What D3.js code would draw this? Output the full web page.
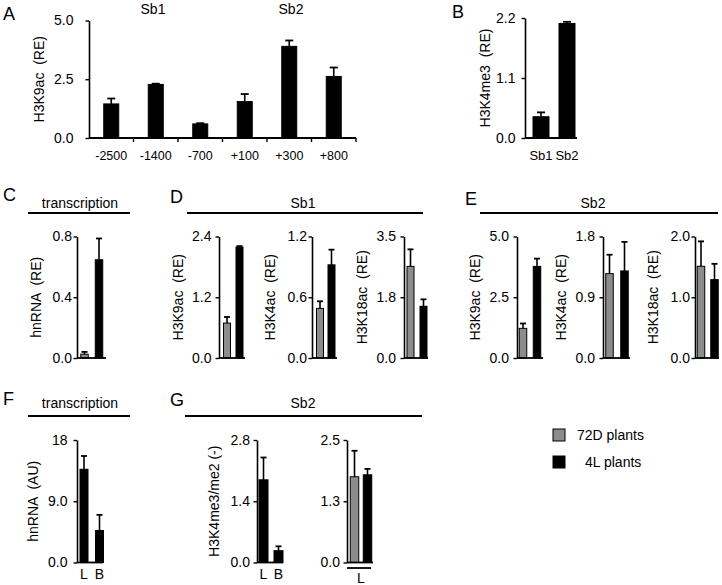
<!DOCTYPE html>
<html><head><meta charset="utf-8">
<script src="https://cdn.jsdelivr.net/npm/d3@7"></script>
<style>body{margin:0;background:#fff}svg{display:block}text{font-family:"Liberation Sans",Arial,sans-serif}</style>
</head><body>
<script>
// ---------- DATA ----------
const seriesNames = ["72D plants", "4L plants"];
// A
const aCategories = ["-2500", "-1400", "-700", "+100", "+300", "+800"];
const aValues = [1.45, 2.28, 0.60, 1.55, 3.90, 2.62];
const aErrors = [0.23, 0.03, 0.03, 0.32, 0.25, 0.38];
const aTicks = [0, 2.5, 5.0];
const aTickLabels = ["0.0", "2.5", "5.0"];
// B
const bCategories = ["Sb1", "Sb2"];
const bValues = [0.39, 2.10];
const bErrors = [0.08, 0.03];
const bTicks = [0, 1.1, 2.2];
const bTickLabels = ["0.0", "1.1", "2.2"];
// C  (72D, 4L)
const cValues = [0.025, 0.647];
const cErrors = [0.015, 0.14];
const cTicks = [0, 0.4, 0.8];
const cTickLabels = ["0.0", "0.4", "0.8"];
// D  Sb1
const d1Values = [0.69, 2.19], d1Errors = [0.12, 0.02];
const d2Values = [0.49, 0.92], d2Errors = [0.07, 0.15];
const d3Values = [2.64, 1.49], d3Errors = [0.49, 0.20];
const d1Ticks = [0, 1.2, 2.4], d1TickLabels = ["0.0", "1.2", "2.4"];
const d2Ticks = [0, 0.6, 1.2], d2TickLabels = ["0.0", "0.6", "1.2"];
const d3Ticks = [0, 1.75, 3.5], d3TickLabels = ["0.0", "1.8", "3.5"];
// E  Sb2
const e1Values = [1.22, 3.77], e1Errors = [0.20, 0.32];
const e2Values = [1.25, 1.29], e2Errors = [0.28, 0.43];
const e3Values = [1.51, 1.29], e3Errors = [0.41, 0.26];
const e1Ticks = [0, 2.5, 5.0], e1TickLabels = ["0.0", "2.5", "5.0"];
const e2Ticks = [0, 0.9, 1.8], e2TickLabels = ["0.0", "0.9", "1.8"];
const e3Ticks = [0, 1.0, 2.0], e3TickLabels = ["0.0", "1.0", "2.0"];
// F  (L, B)
const fCategories = ["L", "B"];
const fValues = [13.7, 4.7], fErrors = [1.95, 2.3];
const fTicks = [0, 9, 18], fTickLabels = ["0.0", "9.0", "18"];
// G
const g1Categories = ["L", "B"];
const g1Values = [1.89, 0.27], g1Errors = [0.51, 0.10];
const g1Ticks = [0, 1.4, 2.8], g1TickLabels = ["0.0", "1.4", "2.8"];
const g2Values = [1.75, 1.79], g2Errors = [0.53, 0.12];
const g2Ticks = [0, 1.25, 2.5], g2TickLabels = ["0.0", "1.3", "2.5"];

// ---------- STYLE ----------
const GRAY = "#8c8c8c", BLACK = "#000";
const W = 722, H = 585;
const svg = d3.select("body").append("svg").attr("width", W).attr("height", H);

function panel(p) {
  const y = d3.scaleLinear().domain([0, p.max]).range([p.yBot, p.yTop]);
  const x = d3.scaleBand().domain(p.cats).range(p.band).padding(0);
  const g = svg.append("g");
  const cx = d => x(d) + x.bandwidth() / 2;
  g.selectAll("rect").data(p.cats).join("rect")
    .attr("x", d => cx(d) - p.barW / 2).attr("width", p.barW)
    .attr("y", (d, i) => y(p.vals[i])).attr("height", (d, i) => y(0) - y(p.vals[i]))
    .attr("fill", (d, i) => p.fills[i]).attr("stroke", "#000").attr("stroke-width", 1);
  const eb = g.selectAll("g.eb").data(p.cats).join("g").attr("class", "eb");
  eb.append("line").attr("x1", cx).attr("x2", cx)
    .attr("y1", (d, i) => y(p.vals[i])).attr("y2", (d, i) => y(p.vals[i] + p.errs[i]))
    .attr("stroke", "#000").attr("stroke-width", 1.6);
  eb.append("line").attr("x1", d => cx(d) - p.cap / 2).attr("x2", d => cx(d) + p.cap / 2)
    .attr("y1", (d, i) => y(p.vals[i] + p.errs[i])).attr("y2", (d, i) => y(p.vals[i] + p.errs[i]))
    .attr("stroke", "#000").attr("stroke-width", 1.8);
  const ax = d3.axisLeft(y).tickValues(p.ticks).tickFormat((d, i) => p.tickLabels[i])
    .tickSize(3.5).tickSizeOuter(0).tickPadding(p.gap);
  const ga = g.append("g").attr("transform", `translate(${p.x0},0)`).call(ax);
  ga.select(".domain").attr("stroke-width", 1.6);
  ga.selectAll(".tick line").attr("stroke-width", 1.4);
  ga.selectAll("text").attr("font-size", 14).attr("font-family", '"Liberation Sans",Arial,sans-serif').attr("fill", "#000");
  g.append("line").attr("x1", p.x0).attr("x2", p.x1).attr("y1", p.yBot).attr("y2", p.yBot)
    .attr("stroke", "#000").attr("stroke-width", 1.8);
  if (p.xTicks) {
    const bounds = p.cats.map(d => x(d)).concat([x(p.cats[p.cats.length - 1]) + x.bandwidth()]);
    g.selectAll("line.xt").data(bounds.slice(1)).join("line").attr("class", "xt")
      .attr("x1", d => d).attr("x2", d => d).attr("y1", p.yBot).attr("y2", p.yBot + 4)
      .attr("stroke", "#000").attr("stroke-width", 1.4);
  }
  if (p.xLabels) {
    g.selectAll("text.xl").data(p.cats).join("text").attr("class", "xl")
      .attr("x", d => cx(d)).attr("y", p.xLabelY)
      .attr("text-anchor", "middle").attr("dominant-baseline", "central")
      .attr("font-size", p.xLabelSize || 13).text(d => d);
  }
  if (p.title) {
    g.append("text").attr("transform", `translate(${p.titleX},${(p.yTop + p.yBot) / 2}) rotate(-90)`)
      .attr("text-anchor", "middle").attr("dominant-baseline", "central")
      .attr("font-size", 14).style("white-space", "pre").text(p.title);
  }
  return { x, y };
}

const GD = [GRAY, BLACK];
const BB = [BLACK, BLACK];

panel({ cats: aCategories, vals: aValues, errs: aErrors, fills: aCategories.map(() => BLACK),
  ticks: aTicks, tickLabels: aTickLabels, max: 5.0, x0: 89, x1: 356, band: [89, 356], yTop: 20.5, yBot: 138,
  barW: 15, cap: 8, gap: 12, xTicks: true, xLabels: true, xLabelY: 156, xLabelSize: 12.5, title: "H3K9ac  (RE)", titleX: 39 });
panel({ cats: bCategories, vals: bValues, errs: bErrors, fills: BB,
  ticks: bTicks, tickLabels: bTickLabels, max: 2.2, x0: 525, x1: 577, band: [528, 580], yTop: 18, yBot: 138,
  barW: 16, cap: 8, gap: 6, xLabels: true, xLabelY: 155, xLabelSize: 13, title: "H3K4me3  (RE)", titleX: 485 });
panel({ cats: seriesNames, vals: cValues, errs: cErrors, fills: GD,
  ticks: cTicks, tickLabels: cTickLabels, max: 0.8, x0: 77, x1: 106, band: [77.25, 106.25], yTop: 236.5, yBot: 358,
  barW: 7.5, cap: 6, gap: 1.5, title: "hnRNA  (RE)", titleX: 36 });
panel({ cats: seriesNames, vals: d1Values, errs: d1Errors, fills: GD,
  ticks: d1Ticks, tickLabels: d1TickLabels, max: 2.4, x0: 219, x1: 245, band: [220.75, 245.75], yTop: 236.5, yBot: 358,
  barW: 7, cap: 6, gap: 4, title: "H3K9ac  (RE)", titleX: 178 });
panel({ cats: seriesNames, vals: d2Values, errs: d2Errors, fills: GD,
  ticks: d2Ticks, tickLabels: d2TickLabels, max: 1.2, x0: 312, x1: 337, band: [314.25, 337.25], yTop: 236.5, yBot: 358,
  barW: 7, cap: 6, gap: 1.5, title: "H3K4ac  (RE)", titleX: 270 });
panel({ cats: seriesNames, vals: d3Values, errs: d3Errors, fills: GD,
  ticks: d3Ticks, tickLabels: d3TickLabels, max: 3.5, x0: 404, x1: 428, band: [404, 430], yTop: 236.5, yBot: 358,
  barW: 7, cap: 6, gap: 4.5, title: "H3K18ac  (RE)", titleX: 362 });
panel({ cats: seriesNames, vals: e1Values, errs: e1Errors, fills: GD,
  ticks: e1Ticks, tickLabels: e1TickLabels, max: 5.0, x0: 517, x1: 543, band: [516, 544], yTop: 236.5, yBot: 358,
  barW: 7.5, cap: 6, gap: 4.5, title: "H3K9ac  (RE)", titleX: 475 });
panel({ cats: seriesNames, vals: e2Values, errs: e2Errors, fills: GD,
  ticks: e2Ticks, tickLabels: e2TickLabels, max: 1.8, x0: 603, x1: 630, band: [602, 632], yTop: 236.5, yBot: 358,
  barW: 7.5, cap: 6, gap: 4.5, title: "H3K4ac  (RE)", titleX: 561 });
panel({ cats: seriesNames, vals: e3Values, errs: e3Errors, fills: GD,
  ticks: e3Ticks, tickLabels: e3TickLabels, max: 2.0, x0: 695, x1: 719, band: [694.25, 721.25], yTop: 236.5, yBot: 358,
  barW: 7.5, cap: 6, gap: 1.5, title: "H3K18ac  (RE)", titleX: 653 });
panel({ cats: fCategories, vals: fValues, errs: fErrors, fills: BB,
  ticks: fTicks, tickLabels: fTickLabels, max: 18, x0: 77, x1: 103, band: [76.25, 107.25], yTop: 440, yBot: 562.5,
  barW: 8, cap: 6, gap: 6, xLabels: true, xLabelY: 574, xLabelSize: 14, title: "hnRNA  (AU)", titleX: 33 });
panel({ cats: g1Categories, vals: g1Values, errs: g1Errors, fills: BB,
  ticks: g1Ticks, tickLabels: g1TickLabels, max: 2.8, x0: 257, x1: 283, band: [256, 286], yTop: 440, yBot: 562.5,
  barW: 9, cap: 6, gap: 3.5, xLabels: true, xLabelY: 574, xLabelSize: 14, title: "H3K4me3/me2 (-)", titleX: 214 });
panel({ cats: seriesNames, vals: g2Values, errs: g2Errors, fills: GD,
  ticks: g2Ticks, tickLabels: g2TickLabels, max: 2.5, x0: 347, x1: 373, band: [348, 374], yTop: 440, yBot: 562.5,
  barW: 8.5, cap: 6, gap: 3.5 });
svg.append("line").attr("x1", 347).attr("x2", 371).attr("y1", 568).attr("y2", 568).attr("stroke", "#000").attr("stroke-width", 1.8);
svg.append("text").attr("x", 361).attr("y", 578).attr("text-anchor", "middle").attr("dominant-baseline", "central").attr("font-size", 14).text("L");

const headings = [
  { t: "Sb1", x: 153, y: 9, line: null },
  { t: "Sb2", x: 291, y: 9, line: null },
  { t: "transcription", x: 80, y: 203, line: [28, 130, 213] },
  { t: "Sb1", x: 303, y: 203, line: [187, 423, 213] },
  { t: "Sb2", x: 593, y: 203, line: [480, 718, 213] },
  { t: "transcription", x: 80, y: 403, line: [28, 130, 416] },
  { t: "Sb2", x: 303, y: 403, line: [185, 422, 416] }
];
headings.forEach(h => {
  svg.append("text").attr("x", h.x).attr("y", h.y).attr("text-anchor", "middle").attr("dominant-baseline", "central")
    .attr("font-size", 14).text(h.t);
  if (h.line) svg.append("line").attr("x1", h.line[0]).attr("x2", h.line[1]).attr("y1", h.line[2]).attr("y2", h.line[2])
    .attr("stroke", "#000").attr("stroke-width", 1.8);
});

const letters = [["A", 3, 20], ["B", 452, 18], ["C", 3, 201], ["D", 170, 203], ["E", 465, 205], ["F", 3, 405], ["G", 170, 406]];
svg.selectAll("text.letter").data(letters).join("text").attr("class", "letter")
  .attr("x", d => d[1]).attr("y", d => d[2]).attr("font-size", 18).text(d => d[0]);

const legend = svg.append("g");
const legY = [435, 462];
const legTextX = [577, 585];
legend.selectAll("rect").data(seriesNames).join("rect")
  .attr("x", 553).attr("y", (d, i) => legY[i] - 6).attr("width", 12).attr("height", 12)
  .attr("fill", (d, i) => GD[i]).attr("stroke", "#000").attr("stroke-width", 1);
legend.selectAll("text").data(seriesNames).join("text")
  .attr("x", (d, i) => legTextX[i]).attr("y", (d, i) => legY[i]).attr("dominant-baseline", "central")
  .attr("font-size", 14).text(d => d);
</script>
</body></html>
